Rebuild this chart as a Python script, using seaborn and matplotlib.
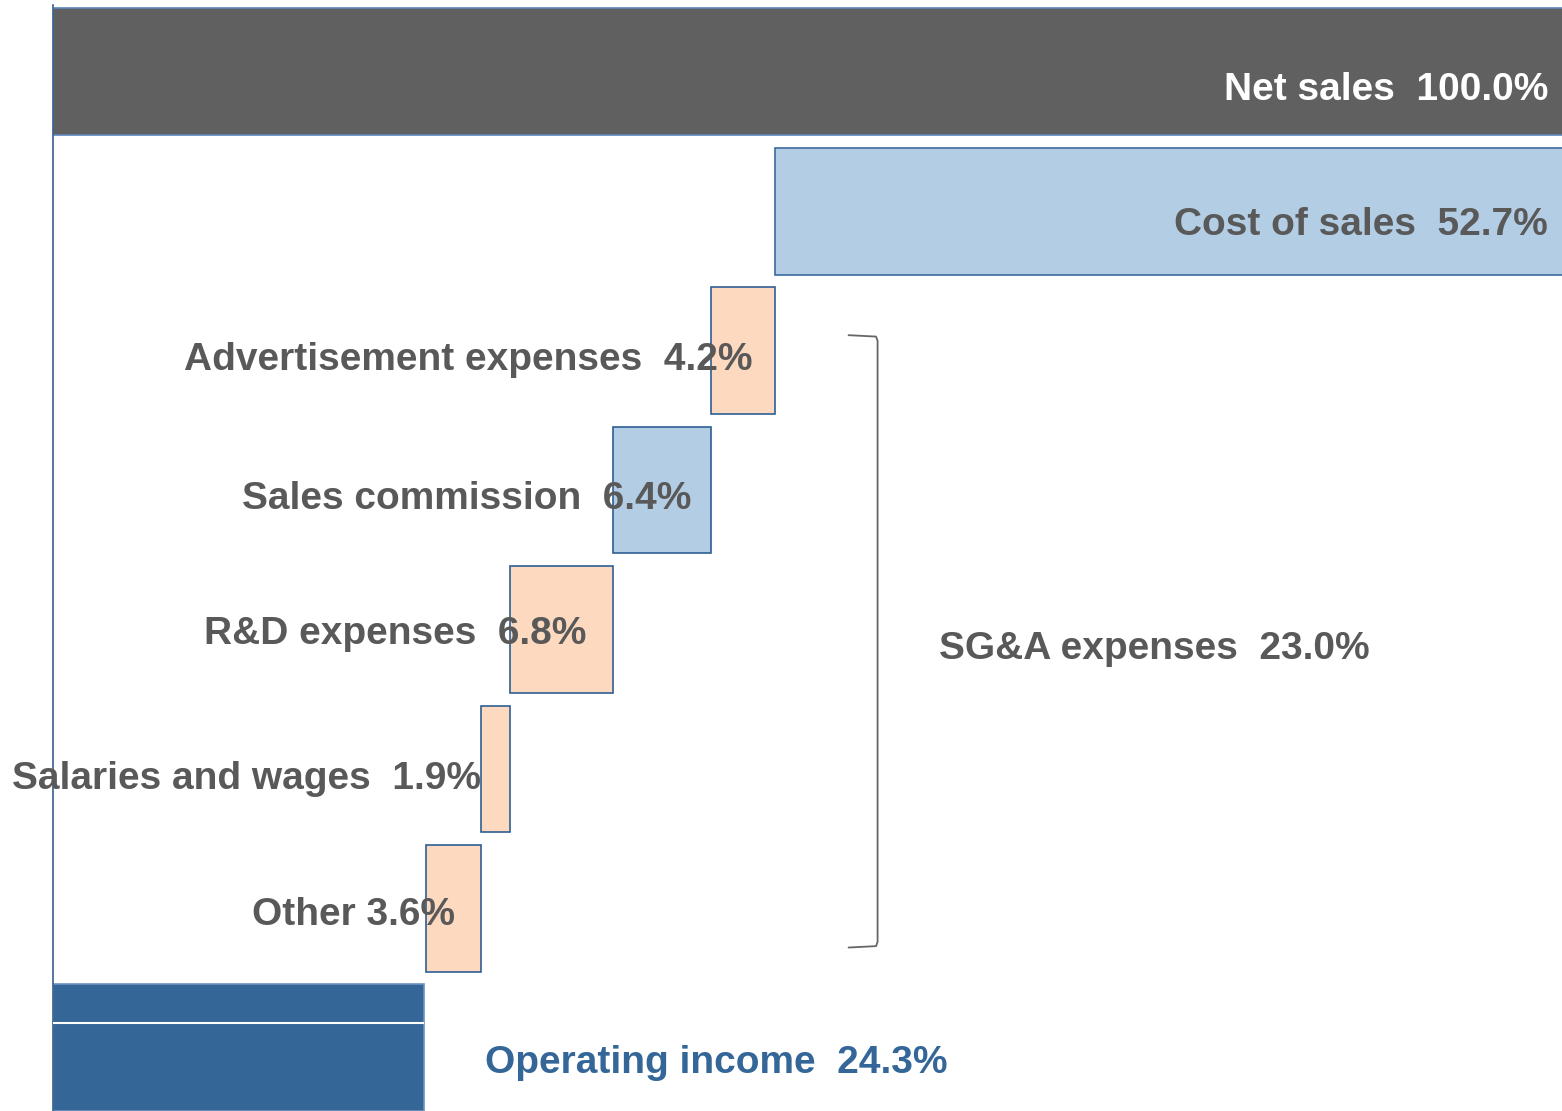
import seaborn as sns
import pandas as pd
import matplotlib.pyplot as plt
from matplotlib import font_manager

# waterfall data (% of net sales)
items = ['Net sales', 'Cost of sales', 'Advertisement expenses', 'Sales commission',
         'R&D expenses', 'Salaries and wages', 'Other', 'Operating income']
values = [100.0, 52.7, 4.2, 6.4, 6.8, 1.9, 3.6, 24.3]
starts = [0.0, 47.3, 43.1, 36.7, 29.9, 28.0, 24.4, 0.0]
labels = ['Net sales  100.0%', 'Cost of sales  52.7%', 'Advertisement expenses  4.2%',
          'Sales commission  6.4%', 'R&D expenses  6.8%', 'Salaries and wages  1.9%',
          'Other 3.6%', 'Operating income  24.3%']
sga_label = 'SG&A expenses  23.0%'

fills = ['#606060', '#b3cde4', '#fdd9bf', '#b3cde4', '#fdd9bf', '#fdd9bf', '#fdd9bf', '#346698']
edges = ['#5b87bd', '#3d6a9e', '#2f5f94', '#2f5f94', '#2f5f94', '#2f5f94', '#2f5f94', '#6f93c0']
text_col = ['white', '#595959', '#595959', '#595959', '#595959', '#595959', '#595959', '#346698']
# label placement tweaks (x pad from bar end, y shift from row centre)
xpad = [2.1, 2.1, 1.5, 1.3, 1.8, 1.9, 1.7, 4.0]
ypad = [0.13, 0.1, 0.07, 0.065, 0.03, 0.07, 0.05, 0.11]

sns.set_theme(style='white')
names = {f.name for f in font_manager.fontManager.ttflist}
fam = [f for f in ['Liberation Sans Narrow', 'Liberation Sans', 'DejaVu Sans'] if f in names]
plt.rcParams['font.family'] = fam

df = pd.DataFrame({'item': items, 'value': values})

fig = plt.figure(figsize=(15.62, 11.11), dpi=100)
ax = fig.add_axes([53 / 1562, 0, 1509 / 1562, 1])
sns.barplot(data=df, y='item', x='value', hue='item', palette=fills, orient='h',
            width=0.91, legend=False, ax=ax, saturation=1)

for p, s, ec in zip(ax.patches, starts, edges):
    p.set_x(s)
    p.set_edgecolor(ec)
    p.set_linewidth(1.2)

# white separator line inside the operating income bar
ax.hlines(6.82, 0, values[-1], color='white', lw=1.5, zorder=5)

# labels
for i, (s, v, lab, c) in enumerate(zip(starts, values, labels, text_col)):
    if i == len(items) - 1:
        ax.text(s + v + xpad[i], i + ypad[i], lab, ha='left', va='center', fontsize=28,
                fontweight='bold', color=c, zorder=6)
    else:
        ax.text(s + v - xpad[i], i + ypad[i], lab, ha='right', va='center', fontsize=28,
                fontweight='bold', color=c, zorder=6)

# bracket for SG&A group
ax.plot([52.1, 53.9, 54.0, 54.0, 53.9, 52.1], [1.89, 1.9, 1.93, 6.24, 6.27, 6.28],
        color='#666666', lw=1.3)
ax.text(58.0, 4.14, sga_label, ha='left', va='center', fontsize=28,
        fontweight='bold', color='#595959')

ax.set_xlim(0, 1509 / 15.27)
ax.set_ylim(7.452, -0.513)
ax.set_xlabel('')
ax.set_ylabel('')
ax.set_xticks([])
ax.set_yticks([])
sns.despine(ax=ax, top=True, right=True, bottom=True, left=False)
ax.spines['left'].set_color('#3a5f8f')
ax.spines['left'].set_linewidth(1.2)
ax.spines['left'].set_bounds(-0.48, 7.452)

fig.savefig('out.png', dpi=100)
